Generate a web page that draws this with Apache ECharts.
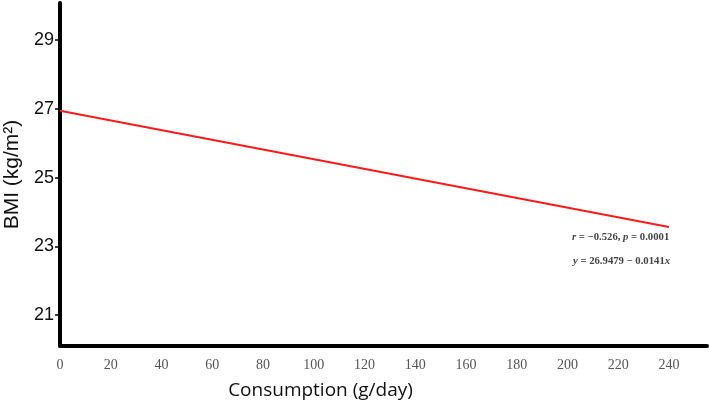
<!DOCTYPE html>
<html>
<head>
<meta charset="utf-8">
<script src="https://cdn.jsdelivr.net/npm/echarts@6/dist/echarts.min.js"></script>
<style>html,body{margin:0;padding:0;background:#fff;}#c{width:709px;height:404px;}</style>
</head>
<body>
<div id="c"></div>
<script>
const consumption = [0, 240];
const bmiFit = [26.9479, 26.9479 - 0.0141 * 240];
const xTicks = [0, 20, 40, 60, 80, 100, 120, 140, 160, 180, 200, 220, 240];
const yTicks = [21, 23, 25, 27, 29];
const statLine1 = ['r', ' = −0.526, ', 'p', ' = 0.0001'];
const statLine2 = ['y', ' = 26.9479 − 0.0141', 'x'];

const rich = {
  i: { fontFamily: 'Liberation Serif', fontStyle: 'italic', fontWeight: 'bold', fontSize: 10.7, fill: '#444' },
  n: { fontFamily: 'Liberation Serif', fontWeight: 'bold', fontSize: 10.7, fill: '#444' }
};

const chart = echarts.init(document.getElementById('c'));
chart.setOption({
  animation: false,
  grid: { left: 60, right: 2, top: 3, bottom: 58, outerBoundsMode: 'none', containLabel: false },
  xAxis: {
    type: 'value', min: 0, max: 255,
    name: 'Consumption (g/day)', nameLocation: 'middle', nameGap: 35,
    nameTextStyle: { fontFamily: 'Open Sans', fontSize: 19, color: '#111', padding: [0, 126, 0, 0] },
    axisLine: { show: true, onZero: false, lineStyle: { color: '#000', width: 4 } },
    axisTick: { show: false },
    splitLine: { show: false },
    axisLabel: { customValues: xTicks, fontFamily: 'Liberation Serif', fontSize: 14, color: '#555', margin: 12 }
  },
  yAxis: {
    type: 'value', min: 20.1, max: 30.08,
    name: 'BMI (kg/m²)', nameLocation: 'middle', nameGap: 35,
    nameTextStyle: { fontFamily: 'Liberation Sans', fontSize: 21, color: '#111' },
    axisLine: { show: true, onZero: false, lineStyle: { color: '#000', width: 4 } },
    axisTick: { show: true, customValues: yTicks, length: 5, lineStyle: { color: '#000', width: 1.5 } },
    splitLine: { show: false },
    axisLabel: { customValues: yTicks, fontFamily: 'Liberation Sans', fontSize: 18, color: '#111', margin: 6 }
  },
  series: [{
    type: 'line',
    data: consumption.map((x, i) => [x, bmiFit[i]]),
    symbol: 'none',
    lineStyle: { color: '#ff1a1a', width: 2 }
  }],
  graphic: [
    {
      type: 'text', left: 572, top: 232,
      style: {
        text: '{i|' + statLine1[0] + '}{n|' + statLine1[1] + '}{i|' + statLine1[2] + '}{n|' + statLine1[3] + '}',
        rich: rich
      }
    },
    {
      type: 'text', left: 573, top: 256,
      style: {
        text: '{i|' + statLine2[0] + '}{n|' + statLine2[1] + '}{i|' + statLine2[2] + '}',
        rich: rich
      }
    }
  ]
});
</script>
</body>
</html>
